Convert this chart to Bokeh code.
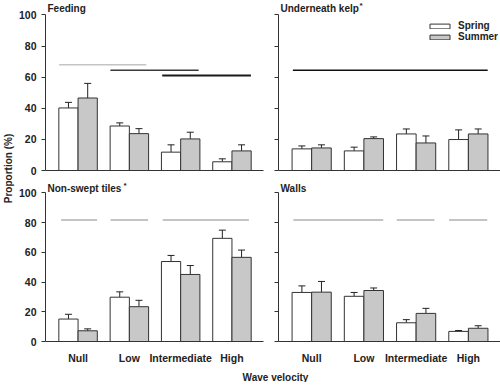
import math
from bokeh.plotting import figure
from bokeh.models import (Whisker, TeeHead, ColumnDataSource, FixedTicker, Label,
                          Legend, LegendItem, Range1d)
from bokeh.layouts import row, column
from bokeh.embed import file_html
from bokeh.resources import INLINE
from bokeh.core.properties import value

# ---------------- data ----------------
categories = ["Null", "Low", "Intermediate", "High"]
seasons = ["Spring", "Summer"]
y_ticks = [0, 20, 40, 60, 80, 100]

feeding_spring = [40.2, 28.6, 11.8, 5.6]
feeding_spring_se = [3.6, 2.0, 4.7, 1.9]
feeding_summer = [46.6, 23.7, 20.3, 12.6]
feeding_summer_se = [9.4, 3.2, 4.3, 3.9]

kelp_spring = [13.9, 12.6, 23.5, 19.9]
kelp_spring_se = [1.9, 2.4, 3.2, 6.2]
kelp_summer = [14.5, 20.5, 17.7, 23.5]
kelp_summer_se = [2.0, 1.1, 4.5, 3.2]

tiles_spring = [15.1, 29.8, 53.8, 69.4]
tiles_spring_se = [3.2, 3.6, 4.1, 5.5]
tiles_summer = [7.2, 23.4, 45.1, 56.6]
tiles_summer_se = [1.3, 4.3, 6.0, 4.9]

walls_spring = [33.0, 30.4, 12.6, 6.8]
walls_spring_se = [4.4, 2.6, 2.1, 0.6]
walls_summer = [33.2, 34.3, 18.9, 8.9]
walls_summer_se = [7.2, 1.7, 3.4, 1.7]

# homogeneous-group lines (in category-index units) and their heights
feeding_grp_x0 = [-0.37, 0.63, 1.64]
feeding_grp_x1 = [1.33, 2.35, 3.37]
feeding_grp_y = [68.0, 64.5, 61.0]

kelp_grp_x0 = [-0.36]
kelp_grp_x1 = [3.37]
kelp_grp_y = [64.5]

tiles_grp_x0 = [-0.33, 0.635, 1.65]
tiles_grp_x1 = [0.37, 1.365, 3.33]
tiles_grp_y = [81.7, 81.7, 81.7]

walls_grp_x0 = [-0.35, 1.63, 2.63]
walls_grp_x1 = [1.37, 2.35, 3.36]
walls_grp_y = [81.7, 81.7, 81.7]

# ---------------- styling ----------------
FONT = "Liberation Sans"
AX = "#333333"
TXT = "#222222"
BAR_W = 0.375
X0, X1 = -0.635, 3.615


def panel(title, spring, spring_se, summer, summer_se, gx0, gx1, gy, gcolors, gwidths,
          width, height, bl, br, bt, bb, ylabels, xlabels, ytop, title_y, legend=False):
    p = figure(width=width, height=height, x_range=Range1d(X0, X1), y_range=Range1d(0, ytop),
               output_backend="svg", toolbar_location=None,
               min_border_left=bl, min_border_right=br, min_border_top=bt, min_border_bottom=bb)
    p.outline_line_color = None
    p.grid.visible = False
    p.background_fill_color = "white"
    p.border_fill_color = "white"

    idx = list(range(len(categories)))
    xs_sp = [i - BAR_W / 2 for i in idx]
    xs_su = [i + BAR_W / 2 for i in idx]

    # significance lines
    cols = [gcolors[k] for k in range(len(gx0))]
    wids = [gwidths[k] for k in range(len(gx0))]
    p.segment(x0=gx0, y0=gy, x1=gx1, y1=gy, line_color=cols, line_width=wids)

    r_sp = p.vbar(x=xs_sp, width=BAR_W, top=spring, bottom=0, fill_color="white",
                  line_color=AX, line_width=1)
    r_su = p.vbar(x=xs_su, width=BAR_W, top=summer, bottom=0, fill_color="#c8c8c8",
                  line_color=AX, line_width=1)

    for xs, vals, se in ((xs_sp, spring, spring_se), (xs_su, summer, summer_se)):
        src = ColumnDataSource(dict(x=xs, lower=vals, upper=[v + e for v, e in zip(vals, se)]))
        w = Whisker(base="x", lower="lower", upper="upper", source=src, dimension="height",
                    line_color=TXT, line_width=1,
                    upper_head=TeeHead(size=7, line_color=TXT, line_width=1),
                    lower_head=None)
        p.add_layout(w)

    # y axis (line stops at 100)
    ya = p.yaxis[0]
    ya.bounds = (0, 100)
    ya.ticker = FixedTicker(ticks=y_ticks)
    ya.axis_line_color = AX
    ya.major_tick_line_color = AX
    ya.major_tick_out = 4
    ya.major_tick_in = 0
    ya.minor_tick_line_color = None
    if ylabels:
        ya.major_label_text_font = FONT
        ya.major_label_text_font_style = "bold"
        ya.major_label_text_font_size = "10.5px"
        ya.major_label_text_color = TXT
        ya.major_label_standoff = 5
    else:
        ya.major_label_text_font_size = "0px"
        ya.major_label_text_color = None
        ya.major_label_standoff = 0

    # x axis
    xa = p.xaxis[0]
    xa.axis_line_color = AX
    xa.major_tick_line_color = None
    xa.minor_tick_line_color = None
    if xlabels:
        xa.ticker = FixedTicker(ticks=idx)
        xa.major_label_overrides = {i: c for i, c in zip(idx, categories)}
        xa.major_label_text_font = FONT
        xa.major_label_text_font_style = "bold"
        xa.major_label_text_font_size = "10.5px"
        xa.major_label_text_color = TXT
        xa.major_label_standoff = 4
    else:
        xa.ticker = FixedTicker(ticks=[])
        xa.major_label_text_font_size = "0px"
        xa.major_label_text_color = None

    t = Label(x=X0, y=title_y, x_offset=2, text=title[0],
              text_font=FONT, text_font_style="bold", text_font_size="10px",
              text_baseline="middle", text_color=TXT)
    p.add_layout(t)
    if title[1]:
        s = Label(x=X0, y=title_y, x_offset=title[1], y_offset=3, text="*",
                  text_font=FONT, text_font_style="bold", text_font_size="8px",
                  text_baseline="middle", text_color=TXT)
        p.add_layout(s)

    if legend:
        lg = Legend(items=[LegendItem(label=seasons[0], renderers=[r_sp]),
                           LegendItem(label=seasons[1], renderers=[r_su])],
                    location=(149, 128), border_line_color=None, background_fill_alpha=0,
                    glyph_width=25, glyph_height=6, label_height=10, label_standoff=6,
                    label_text_font=FONT, label_text_font_style="bold",
                    label_text_font_size="10px", label_text_color=TXT,
                    spacing=0, padding=0, margin=0)
        p.add_layout(lg)
    return p


LIGHT = "#c4c4c4"
DARK = "#3a3a3a"

TOP_H, BOT_H = 178, 188
LEFT_W, RIGHT_W, YLAB_W = 255, 230, 15
TOP_YMAX, BOT_YMAX = 108.0, 108.3

tl = panel(("Feeding", 0), feeding_spring, feeding_spring_se, feeding_summer, feeding_summer_se,
           feeding_grp_x0, feeding_grp_x1, feeding_grp_y, [LIGHT, DARK, "#1a1a1a"], [1.5, 1.5, 2],
           LEFT_W, TOP_H, 27, 7, 2, 8, True, False, TOP_YMAX, 104.1)
tr = panel(("Underneath kelp", 81), kelp_spring, kelp_spring_se, kelp_summer, kelp_summer_se,
           kelp_grp_x0, kelp_grp_x1, kelp_grp_y, ["#111111"], [1.5],
           RIGHT_W, TOP_H, 8, 0, 2, 8, False, False, TOP_YMAX, 104.1, legend=True)
bl = panel(("Non-swept tiles", 78), tiles_spring, tiles_spring_se, tiles_summer, tiles_summer_se,
           tiles_grp_x0, tiles_grp_x1, tiles_grp_y, [LIGHT] * 3, [2, 2, 2],
           LEFT_W, BOT_H, 27, 7, 2, 16, True, True, BOT_YMAX, 102.9)
br = panel(("Walls", 0), walls_spring, walls_spring_se, walls_summer, walls_summer_se,
           walls_grp_x0, walls_grp_x1, walls_grp_y, [LIGHT] * 3, [2, 2, 2],
           RIGHT_W, BOT_H, 8, 0, 2, 16, False, True, BOT_YMAX, 102.9)


def blank(w, h):
    f = figure(width=w, height=h, x_range=Range1d(0, w), y_range=Range1d(0, h),
               output_backend="svg", toolbar_location=None,
               x_axis_location=None, y_axis_location=None,
               min_border_left=0, min_border_right=0, min_border_top=0, min_border_bottom=0)
    f.outline_line_color = None
    f.grid.visible = False
    return f


ylab = blank(YLAB_W, TOP_H + BOT_H)
ylab.text(x=[7.5], y=[TOP_H + BOT_H - 168], text=["Proportion (%)"], angle=math.pi / 2,
          text_align="center", text_baseline="middle", text_font=value(FONT),
          text_font_style="bold", text_font_size="10px", text_color=TXT)

XLAB_H = 16
xlab = blank(YLAB_W + LEFT_W + RIGHT_W, XLAB_H)
xlab.text(x=[275], y=[XLAB_H - 11], text=["Wave velocity"], text_align="center",
          text_baseline="middle", text_font=value(FONT), text_font_style="bold",
          text_font_size="10px", text_color=TXT)

layout = column(row(ylab, column(row(tl, tr), row(bl, br))), xlab)

open("out.html", "w").write(file_html(layout, INLINE))
